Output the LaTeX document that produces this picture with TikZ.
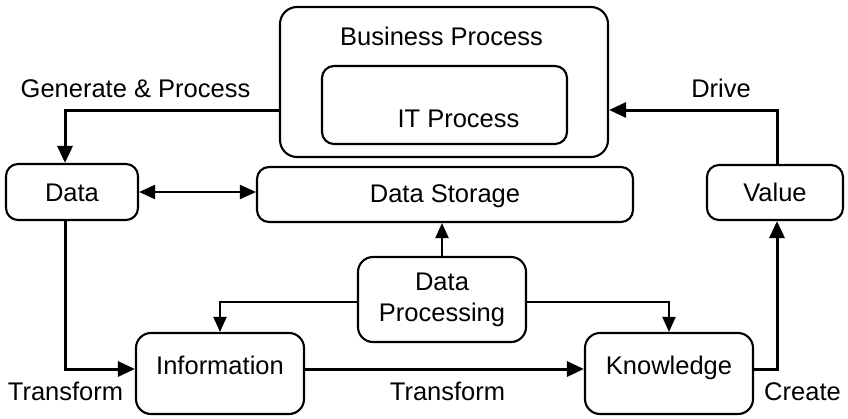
\documentclass[tikz,border=0pt]{standalone}
\usepackage{fontspec}
\setmainfont{Liberation Sans}
\usetikzlibrary{arrows.meta}

\tikzset{
  box/.style={draw, line width=2.1pt, rounded corners=12pt, inner sep=0pt, align=center},
  oneline/.style={text height=18.6pt, text depth=0pt},
  raised/.style={text height=18.6pt, text depth=16pt},
  txt/.style={inner sep=0pt, anchor=base},
  flow/.style={line width=3pt, -{Triangle[length=17pt,width=15pt]}},
  thin flow/.style={line width=2pt, -{Triangle[length=15pt,width=13pt]}},
  both flow/.style={line width=2pt,
    {Triangle[length=16pt,width=14pt]}-{Triangle[length=16pt,width=14pt]}},
}

\begin{document}
\begin{tikzpicture}[x=1pt,y=-1pt,font=\fontsize{25.5}{30}\selectfont]
  \useasboundingbox (0,0) rectangle (848,418);

  % business process with the IT process inside it
  \node[box, rounded corners=17pt, minimum width=328pt, minimum height=150pt] (bp) at (444,82) {};
  \node[txt] (bptext) at (441.5,45) {Business Process};
  \node[box, minimum width=245pt, minimum height=78pt] (it) at (444.5,105) {};
  \node[txt] (ittext) at (458.5,127) {IT Process};

  % upper row
  \node[box, oneline, minimum width=132pt, minimum height=56pt] (data) at (72,192) {Data};
  \node[box, oneline, minimum width=376pt, minimum height=55pt, text depth=3pt] (storage) at (445,194.5) {Data Storage};
  \node[box, oneline, minimum width=136pt, minimum height=55pt] (value) at (775,192.5) {Value};

  % processing and lower row
  \node[box, rounded corners=15pt, minimum width=168pt, minimum height=85pt] (proc) at (442,299.5) {Data\\[1pt]Processing};
  \node[box, rounded corners=15pt, raised, minimum width=168pt, minimum height=81pt] (info) at (220,373.5) {Information};
  \node[box, rounded corners=15pt, raised, minimum width=168pt, minimum height=81pt] (know) at (669,373.5) {Knowledge};

  % routing points of the outer loop
  \coordinate (gp) at (65,110);
  \coordinate (dv) at (777,110);
  \coordinate (tr) at (65,369);

  % outer loop
  \draw[flow] (gp -| bp.west) -- (gp) -- (gp |- data.north);
  \draw[flow] (gp |- data.south) -- (tr) -- (tr -| info.west);
  \draw[flow] (tr -| info.east) -- (tr -| know.west);
  \draw[flow] (tr -| know.east) -- (tr -| dv) -- (dv |- value.south);
  \draw[flow] (dv |- value.north) -- (dv) -- (dv -| bp.east);

  % storage and processing links
  \draw[both flow] (data.east) -- (data.east -| storage.west);
  \draw[thin flow] (proc.north) -- (proc.north |- storage.south);
  \draw[thin flow] ([yshift=-2.5pt]proc.west) -| (info.north);
  \draw[thin flow] ([yshift=-2.5pt]proc.east) -| (know.north);

  % connector labels
  \node[txt] (lgen) at (135.5,97) {Generate \& Process};
  \node[txt] (ldrive) at (721,97) {Drive};
  \node[txt] (ltr1) at (65.5,400) {Transform};
  \node[txt] (ltr2) at (447.5,400) {Transform};
  \node[txt] (lcreate) at (802.5,400) {Create};
\end{tikzpicture}
\end{document}
